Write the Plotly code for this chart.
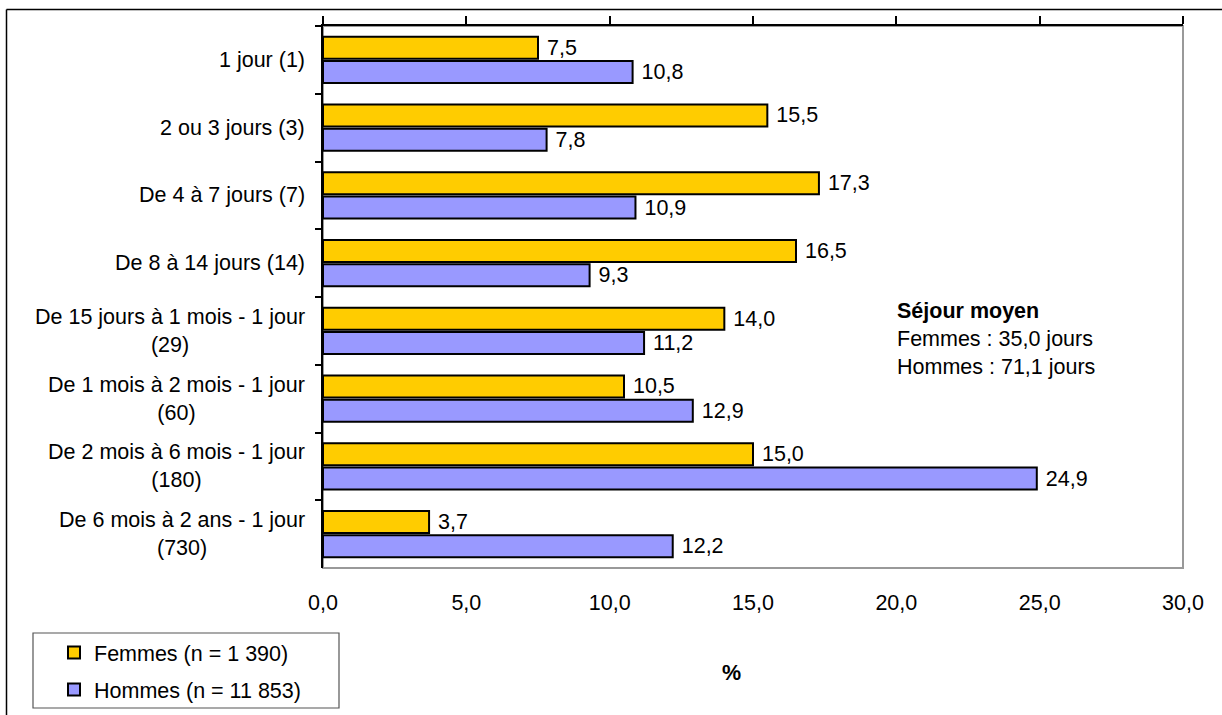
import plotly.graph_objects as go

categories = [
    "1 jour (1)",
    "2 ou 3 jours (3)",
    "De 4 à 7 jours (7)",
    "De 8 à 14 jours (14)",
    "De 15 jours à 1 mois - 1 jour<br>(29)",
    "De 1 mois à 2 mois - 1 jour<br>(60)",
    "De 2 mois à 6 mois - 1 jour<br>(180)",
    "De 6 mois à 2 ans - 1 jour<br>(730)",
]
femmes = [7.5, 15.5, 17.3, 16.5, 14.0, 10.5, 15.0, 3.7]
hommes = [10.8, 7.8, 10.9, 9.3, 11.2, 12.9, 24.9, 12.2]
series_names = ["Femmes (n = 1 390)", "Hommes (n = 11 853)"]
x_ticks = [0, 5, 10, 15, 20, 25, 30]
note_lines = ["<b>Séjour moyen</b>", "Femmes : 35,0 jours", "Hommes : 71,1 jours"]
axis_title = "%"

W, H = 1222, 715
L, R, T, B = 323, 1183, 26, 568
FONT = "Liberation Sans, Arial, sans-serif"
FS = 21.5


def px_x(px):
    return (px - L) / (R - L)


def px_y(py):
    return (B - py) / (B - T)


fig = go.Figure()
for name, vals, color in [(series_names[0], femmes, "#FFCC00"), (series_names[1], hommes, "#9999FF")]:
    fig.add_trace(go.Bar(
        y=categories, x=vals, orientation="h", name=name,
        marker=dict(color=color, line=dict(color="black", width=2)),
        texttemplate="\u00a0%{x:.1f}", textposition="outside",
        textfont=dict(family=FONT, size=FS, color="black"),
        constraintext="none", cliponaxis=False, hoverinfo="skip",
        legendgroup=name,
    ))

# dummy trace to anchor the top axis (ticks only)
fig.add_trace(go.Scatter(x=[None], y=[None], xaxis="x2", showlegend=False, hoverinfo="skip"))

annotations = []
for c in categories:
    annotations.append(dict(
        x=0, xref="paper", y=c, yref="y", xanchor="right", yanchor="middle",
        xshift=-16, text=c, showarrow=False, align="center",
        font=dict(family=FONT, size=FS, color="black"),
    ))
annotations.append(dict(
    x=px_x(895), xref="paper", y=px_y(339), yref="paper", xanchor="left", yanchor="middle",
    text="<br>".join(note_lines), showarrow=False, align="left",
    font=dict(family=FONT, size=FS, color="black"),
))
annotations.append(dict(
    x=px_x(731), xref="paper", y=px_y(673), yref="paper", xanchor="center", yanchor="middle",
    text="<b>" + axis_title + "</b>", showarrow=False,
    font=dict(family=FONT, size=FS, color="black"),
))

shapes = [
    # plot area border (gray)
    dict(type="rect", xref="paper", yref="paper", x0=0, x1=1, y0=0, y1=1,
         line=dict(color="#999999", width=2), layer="below"),
    # outer frame: top and left
    dict(type="line", xref="paper", yref="paper", x0=px_x(6.5), x1=px_x(1224), y0=px_y(9.5), y1=px_y(9.5),
         line=dict(color="black", width=1.5)),
    dict(type="line", xref="paper", yref="paper", x0=px_x(6.5), x1=px_x(6.5), y0=px_y(9.5), y1=px_y(717),
         line=dict(color="black", width=1.5)),
    # legend box
    dict(type="rect", xref="paper", yref="paper", x0=px_x(33), x1=px_x(339), y0=px_y(633), y1=px_y(708),
         line=dict(color="#555555", width=1.2), fillcolor="white", layer="below"),
]

fig.update_layout(
    width=W, height=H,
    margin=dict(l=L, r=W - R, t=T, b=H - B, pad=0, autoexpand=False),
    paper_bgcolor="white", plot_bgcolor="white",
    font=dict(family=FONT, size=FS, color="black"),
    separators=", ",
    barmode="group", bargap=0.28, bargroupgap=0.1,
    showlegend=True,
    legend=dict(
        xref="container", yref="container",
        x=54 / W, y=1 - 632 / H, xanchor="left", yanchor="top",
        bgcolor="rgba(0,0,0,0)", borderwidth=0,
        font=dict(family=FONT, size=FS, color="black"),
        traceorder="grouped", tracegroupgap=6,
    ),
    xaxis=dict(
        range=[0, 30], tickvals=x_ticks, tickformat=".1f", ticks="",
        showgrid=False, zeroline=False, showline=False,
        ticklabelstandoff=19, tickfont=dict(family=FONT, size=FS, color="black"),
        fixedrange=True,
    ),
    xaxis2=dict(
        overlaying="x", matches="x", side="top", range=[0, 30], tickvals=x_ticks,
        ticks="outside", ticklen=8, tickwidth=1.5, tickcolor="black",
        showticklabels=False, showgrid=False, zeroline=False,
        showline=True, linecolor="black", linewidth=1.5, anchor="y",
    ),
    yaxis=dict(
        type="category", categoryarray=categories, range=[7.5, -0.5],
        tickson="boundaries", ticks="outside", ticklen=6, tickwidth=1.5, tickcolor="black",
        showticklabels=False, showgrid=False, zeroline=False,
        showline=True, linecolor="black", linewidth=1.5,
        fixedrange=True,
    ),
    annotations=annotations,
    shapes=shapes,
)

fig.write_html("out.html")
